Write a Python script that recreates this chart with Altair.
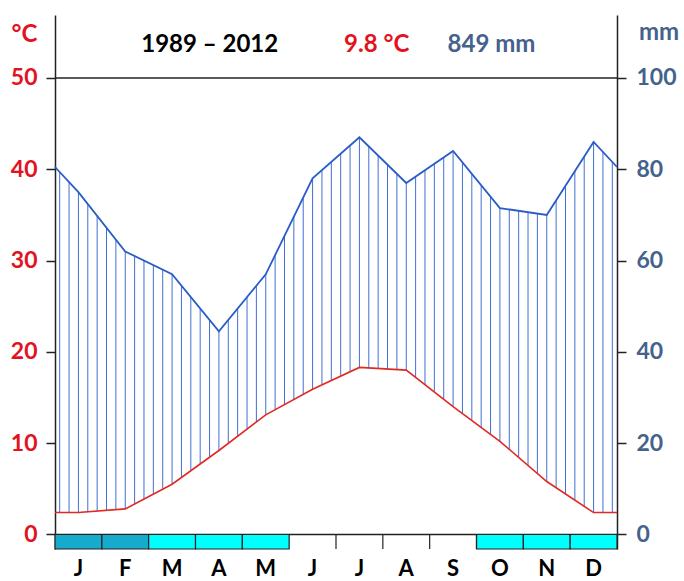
import json
import altair as alt
import pandas as pd

# ---- data ----
months = ["J", "F", "M", "A", "M", "J", "J", "A", "S", "O", "N", "D"]
temperature_c = [2.4, 2.8, 5.5, 9.2, 13.1, 15.9, 18.3, 18.0, 14.0, 10.2, 5.8, 2.4]
precip_mm = [75, 62, 57, 44.5, 57, 78, 87, 77, 84, 71.5, 70, 86]
frost = ["certain", "certain", "probable", "probable", "probable", "none",
         "none", "none", "none", "probable", "probable", "probable"]
period = "1989 – 2012"
mean_temp_label = "9.8 °C"
annual_precip_label = "849 mm"
tick_values_mm = [0, 20, 40, 60, 80, 100]

# ---- styling ----
RED = "#e3121e"
SLATE = "#45628c"
PBLUE = "#2a5cc8"
HBLUE = "#3f6fd2"
TRED = "#e02a22"
AXC = "#222222"
FONT = "Lato"
W, H = 562, 534
Y_DOM = [-3.18, 113.8]
xs = alt.Scale(domain=[0, 12], nice=False, zero=False)
ys = alt.Scale(domain=Y_DOM, nice=False, zero=False)

# line table: year wraps at both edges (mean of Dec and Jan)
t_edge = (temperature_c[0] + temperature_c[-1]) / 2
p_edge = (precip_mm[0] + precip_mm[-1]) / 2
t_ext = [t_edge] + temperature_c + [t_edge]
p_ext = [p_edge] + precip_mm + [p_edge]
x_ext = [0] + [i + 0.5 for i in range(12)] + [12]
lines_df = pd.DataFrame({"x": x_ext, "t2": [t * 2 for t in t_ext], "p": p_ext})

month_df = pd.DataFrame({"i": list(range(12)), "i2": list(range(1, 13)),
                         "mid": [i + 0.5 for i in range(12)],
                         "m": months, "frost": frost})
month_df["top"] = 0
month_df["bot"] = Y_DOM[0]

# hatching: 5 vertical strokes per month between temperature and precipitation curves
PE = json.dumps(p_ext)
TE = json.dumps(t_ext)
hatch = (
    alt.Chart(alt.sequence(0, 60))
    .transform_calculate(pos="(datum.data + 0.5) * 0.2")
    .transform_calculate(k="datum.pos < 0.5 ? 0 : (datum.pos >= 11.5 ? 12 : floor(datum.pos - 0.5) + 1)")
    .transform_calculate(x0="datum.k == 0 ? 0 : datum.k - 0.5")
    .transform_calculate(x1="datum.k == 12 ? 12 : datum.k + 0.5")
    .transform_calculate(f="(datum.pos - datum.x0) / (datum.x1 - datum.x0)")
    .transform_calculate(p=f"{PE}[datum.k] + ({PE}[datum.k + 1] - {PE}[datum.k]) * datum.f")
    .transform_calculate(t2=f"2 * ({TE}[datum.k] + ({TE}[datum.k + 1] - {TE}[datum.k]) * datum.f)")
    .mark_rule(color=HBLUE, strokeWidth=1)
    .encode(x=alt.X("pos:Q", scale=xs, axis=None),
            y=alt.Y("t2:Q", scale=ys, axis=None),
            y2="p:Q")
)

temp_line = alt.Chart(lines_df).mark_line(color=TRED, strokeWidth=1.6).encode(
    x=alt.X("x:Q", scale=xs, axis=None),
    y=alt.Y("t2:Q", scale=ys, axis=alt.Axis(
        orient="left", values=tick_values_mm, labelExpr="datum.value / 2", grid=False,
        labelFont=FONT, labelFontWeight="bold", labelFontSize=23, labelColor=RED,
        labelPadding=9, tickSize=9, tickColor=AXC, tickWidth=1.5,
        domainColor=AXC, domainWidth=1.5, title=None)),
)

precip_line = alt.Chart(lines_df).mark_line(color=PBLUE, strokeWidth=1.8).encode(
    x=alt.X("x:Q", scale=xs, axis=None),
    y=alt.Y("p:Q", scale=ys, axis=alt.Axis(
        orient="right", values=tick_values_mm, grid=False,
        labelFont=FONT, labelFontWeight="bold", labelFontSize=23, labelColor=SLATE,
        labelPadding=10, tickSize=9, tickColor=AXC, tickWidth=1.5,
        domainColor=AXC, domainWidth=1.5, title=None)),
)

hlines = alt.Chart(pd.DataFrame({"v": [0, 100]})).mark_rule(color=AXC, strokeWidth=1.5).encode(
    y=alt.Y("v:Q", scale=ys, axis=None))

boxes = alt.Chart(month_df).transform_filter("datum.frost != 'none'").mark_rect(
    stroke=AXC, strokeWidth=1.2).encode(
    x=alt.X("i:Q", scale=xs, axis=None), x2="i2:Q",
    y=alt.Y("top:Q", scale=ys, axis=None), y2="bot:Q",
    fill=alt.Fill("frost:N", scale=alt.Scale(domain=["certain", "probable"],
                                             range=["#16aacc", "#00ffff"]), legend=None))

seps = alt.Chart(month_df).transform_filter("datum.i >= 6 && datum.i <= 9").mark_rule(
    color=AXC, strokeWidth=1.2).encode(
    x=alt.X("i:Q", scale=xs, axis=None),
    y=alt.Y("top:Q", scale=ys, axis=None), y2="bot:Q")

month_labels = alt.Chart(month_df).mark_text(
    font=FONT, fontWeight="bold", fontSize=22, color="black",
    align="center", baseline="middle").encode(
    x=alt.X("mid:Q", scale=xs, axis=None), y=alt.value(H + 20), text="m:N")

def label(txt, x, y, color, size=24):
    return alt.Chart(pd.DataFrame({"s": [txt]})).mark_text(
        font=FONT, fontWeight="bold", fontSize=size, color=color,
        align="center", baseline="alphabetic").encode(
        text="s:N", x=alt.value(x), y=alt.value(y))

texts = [
    label(period, 154.7, 36.7, "black"),
    label(mean_temp_label, 321.7, 36.7, RED),
    label(annual_precip_label, 436.5, 36.7, SLATE),
    label("°C", -30.5, 26.7, RED),
    label("mm", 604, 25, SLATE),
]

chart = alt.layer(hatch, temp_line, precip_line, hlines, boxes, seps, month_labels,
                  *texts).resolve_scale(y="independent").properties(
    width=W, height=H,
    autosize=alt.AutoSizeParams(type="none"),
    padding={"left": 55, "top": 15, "right": 67, "bottom": 32},
).configure(background="white", view=alt.ViewConfig(stroke="transparent", strokeWidth=0))

chart.save("out.html", embed_options={"renderer": "svg", "actions": False})
